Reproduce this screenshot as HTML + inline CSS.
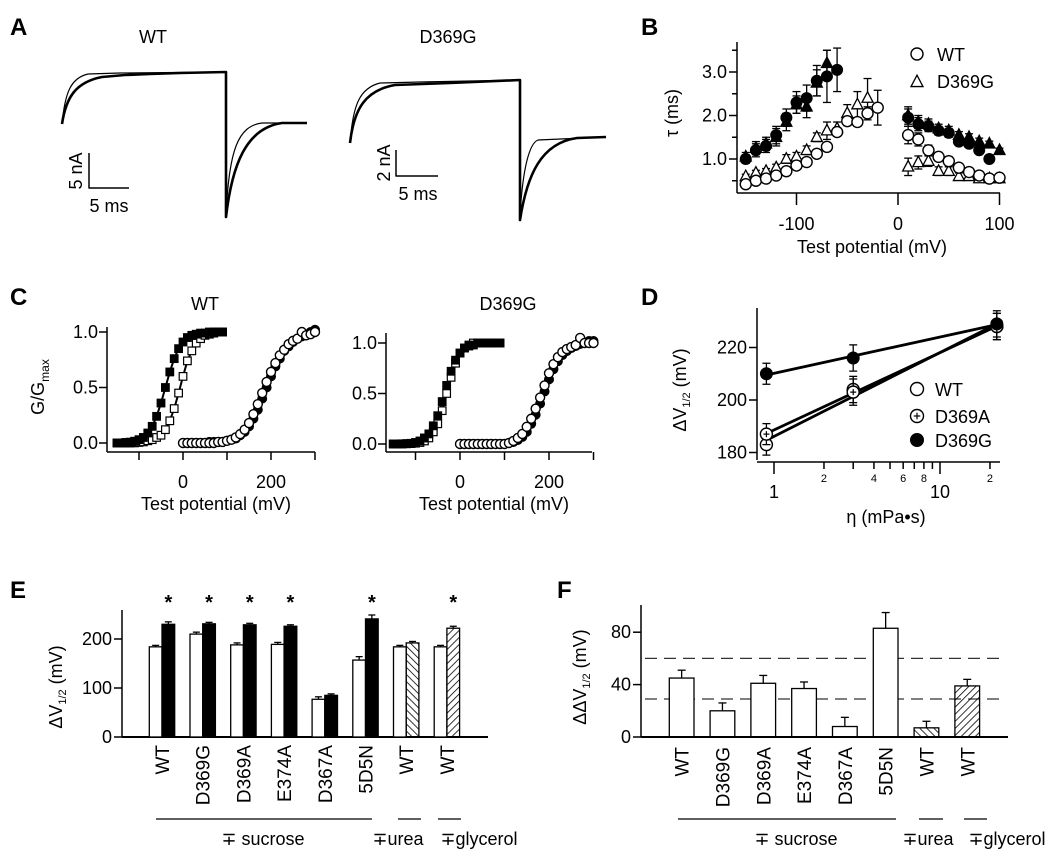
<!DOCTYPE html>
<html><head><meta charset="utf-8"><style>
html,body{margin:0;padding:0;background:#fff;}
svg{display:block;font-family:"Liberation Sans",Arial,sans-serif;}
</style></head><body>
<svg id="fig" width="1050" height="859" viewBox="0 0 1050 859" xmlns="http://www.w3.org/2000/svg">
<defs>
<pattern id="hatchBack" patternUnits="userSpaceOnUse" width="5" height="5" patternTransform="rotate(-45)"><line x1="0" y1="0" x2="0" y2="5" stroke="#000" stroke-width="1.6"/></pattern>
<pattern id="hatchFwd" patternUnits="userSpaceOnUse" width="5" height="5" patternTransform="rotate(45)"><line x1="0" y1="0" x2="0" y2="5" stroke="#000" stroke-width="1.6"/></pattern>
</defs>
<g fill="none" stroke="#000" stroke-linejoin="round">
<path stroke-width="1.2" d="M62,124 C65,92 71,78 88,74 L120,73 L226,72 L226,215 C229,150 238,126 262,123 L307,123"/>
<path stroke-width="2.6" d="M62,124 C66,97 76,82 102,77 L125,75 L150,74 L180,73 L226,72 L226,217 C232,165 246,128 282,123 L307,123"/>
<path stroke-width="1.2" d="M350,143 C353,104 360,88 380,83 L420,82 L520,80 L520,215 C523,165 530,143 538,140 L606,137"/>
<path stroke-width="2.6" d="M350,143 C354,108 366,90 395,85 L450,83 L520,80 L520,220 C527,175 541,143 577,138 L606,137"/>
<path stroke-width="1.5" d="M89,153 L89,188 L129,188"/>
<path stroke-width="1.5" d="M396,150 L396,176 L438,176"/>
</g>
<g id="main"></g>
</svg>
<script>
// ---------- data ----------
// Panel B (tau vs voltage)
const bLeftV = [-150,-140,-130,-120,-110,-100,-90,-80,-70,-60,-50,-40,-30,-20];
const bWtLeft = [0.42,0.5,0.55,0.62,0.72,0.85,0.93,1.12,1.28,1.62,1.87,1.85,2.05,2.18];
const bWtLeftErr = [0.05,0.05,0.05,0.05,0.06,0.06,0.08,0.08,0.1,0.1,0.1,0.1,0.15,0.4];
const bD369gLeft = [0.6,0.68,0.72,0.8,1.0,1.05,1.2,1.5,1.65,1.7,2.05,2.25,2.4];
const bD369gLeftErr = [0.05,0.06,0.06,0.08,0.1,0.1,0.1,0.1,0.2,0.15,0.2,0.3,0.45];
const bFillCirLeft = [1.0,1.2,1.3,1.55,1.95,2.3,2.4,2.8,2.9,3.05];
const bFillCirLeftErr = [0.1,0.15,0.15,0.2,0.2,0.25,0.3,0.35,0.6,0.5];
const bFillTriLeft = [1.05,1.25,1.35,1.5,1.85,2.25,2.2,2.75,3.2];
const bFillTriLeftErr = [0.1,0.15,0.15,0.2,0.2,0.2,0.25,0.3,0.3];
const bRightV = [10,20,30,40,50,60,70,80,90,100];
const bWtRight = [1.55,1.45,1.2,1.05,0.95,0.8,0.7,0.62,0.55,0.57];
const bD369gRight = [0.82,0.92,0.95,0.72,0.72,0.6,0.6,0.55,0.55,0.55];
const bFillCirRight = [1.95,1.8,1.75,1.65,1.6,1.4,1.35,1.2,1.0];
const bFillTriRight = [2.0,1.85,1.8,1.7,1.65,1.55,1.5,1.4,1.35,1.2];
const bRightErr = [0.2,0.15,0.12,0.1,0.1,0.08,0.08,0.08,0.06,0.05];
const bYTicks = [1.0,2.0,3.0];
const bYTickLabels = ["1.0","2.0","3.0"];
const bXTicks = [-100,0,100];

// Panel C (G/Gmax)
const cSqV = [-150,-140,-130,-120,-110,-100,-90,-80,-70,-60,-50,-40,-30,-20,-10,0,10,20,30,40,50,60,70,80,90];
const cWtFilledSq = [0,0,0.005,0.008,0.016,0.03,0.05,0.09,0.15,0.24,0.36,0.5,0.64,0.76,0.85,0.91,0.95,0.97,0.98,0.99,0.99,1.0,1.0,1.0,1.0];
const cWtOpenSq = [0,0,0,0,0.001,0.005,0.01,0.02,0.03,0.05,0.07,0.12,0.2,0.31,0.45,0.6,0.74,0.83,0.9,0.94,0.97,0.98,0.99,1.0,1.0];
const cCirV = [0,10,20,30,40,50,60,70,80,90,100,110,120,130,140,150,160,170,180,190,200,210,220,230,240,250,260,270,280,290,300];
const cWtOpenCir = [0,0,0,0,0,0,0,0,0.01,0.01,0.02,0.03,0.05,0.08,0.12,0.18,0.26,0.35,0.45,0.55,0.64,0.72,0.79,0.84,0.89,0.92,0.94,1.0,0.97,0.98,1.0];
const cWtFilledCir = [0,0,0,0,0,0,0.01,0.01,0.01,0.01,0.02,0.03,0.04,0.07,0.1,0.15,0.22,0.3,0.4,0.5,0.6,0.69,0.76,0.83,0.87,0.91,0.94,0.96,0.97,1.0,1.02];
const cGFilledSq = [0,0,0.002,0.004,0.007,0.015,0.03,0.06,0.1,0.18,0.28,0.42,0.58,0.72,0.83,0.9,0.95,0.97,0.98,1.0,1.0,1.0,1.0,1.0,1.0];
const cGOpenSq = [0,0,0,0.002,0.004,0.008,0.015,0.03,0.06,0.12,0.2,0.33,0.5,0.66,0.8,0.9,0.95,0.98,1.0,1.0,1.0,1.0,1.0,1.0,1.0];
const cGOpenCir = [0,0,0,0,0,0,0,0,0,0,0,0.01,0.03,0.06,0.1,0.17,0.25,0.35,0.46,0.58,0.7,0.79,0.86,0.91,0.94,0.96,0.98,1.05,1.0,1.0,1.0];
const cGFilledCir = [0,0,0,0,0,0,0,0,0,0,0,0.01,0.02,0.04,0.07,0.12,0.2,0.29,0.4,0.52,0.64,0.74,0.82,0.88,0.92,0.95,0.97,0.99,1.0,1.02,1.02];
const cYTicks = [0,0.5,1.0];
const cYTickLabels = ["0.0","0.5","1.0"];
const cXTicks = [-100,0,100,200,300];
const cXTickLabels = ["","0","","200",""];

// Panel D (dV1/2 vs viscosity)
const dEta = [0.9,3,22];
const dWt = [183,204,228];
const dD369a = [187,203,228];
const dD369g = [210,216,229];
const dErr = [4,5,5];
const dYTicks = [180,200,220];
const dMinorTicks = [1,2,3,4,5,6,7,8,9,10,20];
const dMinorLabels = ["","2","","4","","6","","8","","","2"];

// Panel E
const eCats = ["WT","D369G","D369A","E374A","D367A","5D5N","WT","WT"];
const eMinus = [184,210,188,189,77,157,184,184];
const eMinusErr = [3,4,4,4,5,7,3,3];
const ePlus = [230,231,229,226,85,241,192,222];
const ePlusErr = [5,3,3,3,3,8,3,4];
const eStars = [true,true,true,true,false,true,false,true];
const eYTicks = [0,100,200];
// Panel F
const fCats = ["WT","D369G","D369A","E374A","D367A","5D5N","WT","WT"];
const fVals = [45,20,41,37,8,83,7,39];
const fErr = [6,6,6,5,7,12,5,5];
const fDashed = [60,29];
const fYTicks = [0,40,80];

// ---------- helpers ----------
const NS = "http://www.w3.org/2000/svg";
const root = document.getElementById('main');
function el(tag, attrs, name, parent) {
  const e = document.createElementNS(NS, tag);
  for (const k in attrs) e.setAttribute(k, attrs[k]);
  
  
  (parent || root).appendChild(e);
  return e;
}
function line(x1,y1,x2,y2,name,w,extra) {
  const a = {x1:x1,y1:y1,x2:x2,y2:y2,stroke:'#000','stroke-width':w||1.5};
  if (extra) for (const k in extra) a[k]=extra[k];
  return el('line', a, name);
}
function text(x,y,s,name,opts) {
  opts = opts || {};
  const a = {x:x,y:y,'font-size':opts.size||18,'text-anchor':opts.anchor||'middle',fill:'#000'};
  if (opts.weight) a['font-weight']=opts.weight;
  if (opts.transform) a.transform=opts.transform;
  const t = el('text', a, name);
  t.textContent = s;
  return t;
}
function marker(type, x, y, r, name) {
  if (type==='oc') return el('circle',{cx:x,cy:y,r:r,fill:'#fff',stroke:'#000','stroke-width':1.4},name);
  if (type==='fc') return el('circle',{cx:x,cy:y,r:r,fill:'#000',stroke:'#000','stroke-width':1},name);
  if (type==='ot'||type==='ft') {
    const h=r*1.9, p=`${x},${y-h*0.6} ${x-r},${y+h*0.4} ${x+r},${y+h*0.4}`;
    return el('polygon',{points:p,fill:type==='ot'?'#fff':'#000',stroke:'#000','stroke-width':1.3},name);
  }
  if (type==='os'||type==='fs') return el('rect',{x:x-r,y:y-r,width:2*r,height:2*r,fill:type==='os'?'#fff':'#000',stroke:'#000','stroke-width':1.2},name);
  if (type==='op') { const g=el('circle',{cx:x,cy:y,r:r,fill:'#fff',stroke:'#000','stroke-width':1.4},name);
    line(x-r*0.5,y,x+r*0.5,y,name+'-plus-h',1.2); line(x,y-r*0.5,x,y+r*0.5,name+'-plus-v',1.2); return g; }
}
function errbar(x,y1,y2,name,cap) {
  cap = cap||4;
  line(x,y1,x,y2,name,1.3);
  line(x-cap,y2,x+cap,y2,name+'-cap',1.3);
}

// ---------- Panel labels & A text ----------
text(10,35,"A","panel-label-a",{size:24,weight:'bold',anchor:'start'});
text(641,35,"B","panel-label-b",{size:24,weight:'bold',anchor:'start'});
text(10,305,"C","panel-label-c",{size:24,weight:'bold',anchor:'start'});
text(641,305,"D","panel-label-d",{size:24,weight:'bold',anchor:'start'});
text(10,598,"E","panel-label-e",{size:24,weight:'bold',anchor:'start'});
text(557,598,"F","panel-label-f",{size:24,weight:'bold',anchor:'start'});
text(153,43,"WT","a-wt-title");
text(448,43,"D369G","a-d369g-title");
text(82,171,"5 nA","a-wt-current-scale",{transform:"rotate(-90 82 171)"});
text(109,212,"5 ms","a-wt-time-scale");
text(390,163,"2 nA","a-d369g-current-scale",{transform:"rotate(-90 390 163)"});
text(418,200,"5 ms","a-d369g-time-scale");

// ---------- Panel B ----------
const bx = v => 898 + v*1.015;
const by = v => 159 - (v-1)*43.5;
line(737,42,737,193,"b-y-axis",1.5);
line(737,193,1000,193,"b-x-axis",1.5);
bYTicks.forEach((t,i)=>{ line(729,by(t),737,by(t),"b-y-tick",1.5); text(727,by(t)+6,bYTickLabels[i],"b-y-tick-label",{anchor:'end'}); });
[0.5,1.5,2.5,3.5].forEach(t=>line(732,by(t),737,by(t),"b-y-minor-tick",1.5));
bXTicks.forEach(t=>{ line(bx(t),193,bx(t),205,"b-x-tick",1.5); text(bx(t),230,String(t),"b-x-tick-label"); });
text(872,253,"Test potential (mV)","b-x-axis-title");
text(678,113,"τ (ms)","b-y-axis-title",{transform:"rotate(-90 678 113)"});
function bSeries(vs, vals, errs, type, name) {
  vals.forEach((v,i)=>{ if (errs) { errbar(bx(vs[i]),by(v),by(v+errs[i]),name+'-err'); errbar(bx(vs[i]),by(v),by(v-errs[i]),name+'-err'); } });
  vals.forEach((v,i)=>marker(type,bx(vs[i]),by(v),5.5,name+'-point'));
}
bSeries(bLeftV,bFillTriLeft,bFillTriLeftErr,'ft','b-filled-tri-left');
bSeries(bLeftV,bFillCirLeft,bFillCirLeftErr,'fc','b-filled-circle-left');
bSeries(bRightV,bFillTriRight,bRightErr,'ft','b-filled-tri-right');
bSeries(bRightV,bFillCirRight,bRightErr,'fc','b-filled-circle-right');
bSeries(bLeftV,bD369gLeft,bD369gLeftErr,'ot','b-d369g-left');
bSeries(bRightV,bD369gRight,bRightErr,'ot','b-d369g-right');
bSeries(bLeftV,bWtLeft,bWtLeftErr,'oc','b-wt-left');
bSeries(bRightV,bWtRight,bRightErr,'oc','b-wt-right');
marker('oc',917,54,6,'b-legend-wt-symbol'); text(937,61,"WT","b-legend-wt",{anchor:'start'});
marker('ot',917,82,6,'b-legend-d369g-symbol'); text(937,88,"D369G","b-legend-d369g",{anchor:'start'});

// ---------- Panel C ----------
function cPanel(pfx, x0, xEnd, y0pix, yScale, yTop, xZero, xScale, title, titleX, series) {
  const cx = v => xZero + v*xScale;
  const cy = v => y0pix - v*yScale;
  line(x0,yTop,x0,452,pfx+"-y-axis",1.5);
  line(x0,452,xEnd,452,pfx+"-x-axis",1.5);
  cYTicks.forEach((t,i)=>{ line(x0-8,cy(t),x0,cy(t),pfx+"-y-tick",1.5); text(x0-9,cy(t)+6,cYTickLabels[i],pfx+"-y-tick-label",{anchor:'end'}); });
  cXTicks.forEach((t,i)=>{ line(cx(t),452,cx(t),460,pfx+"-x-tick",1.5); if (cXTickLabels[i]) text(cx(t),488,cXTickLabels[i],pfx+"-x-tick-label"); });
  text(titleX,310,title,pfx+"-title");
  text((x0+xEnd)/2+5,510,"Test potential (mV)",pfx+"-x-axis-title");
  series.forEach(s=>{
    const pts = s.vals.map((v,i)=>cx(s.vs[i])+','+cy(v)).join(' ');
    el('polyline',{points:pts,fill:'none',stroke:'#000','stroke-width':2},pfx+'-'+s.name+'-fit');
  });
  series.forEach(s=>{ s.vals.forEach((v,i)=>marker(s.type,cx(s.vs[i]),cy(v),s.type.endsWith('s')?3.8:4.5,pfx+'-'+s.name+'-point')); });
}
cPanel('c-wt',107,315,443,111,327,183,0.44,"WT",205,[
  {vs:cSqV,vals:cWtOpenSq,type:'os',name:'open-square'},
  {vs:cSqV,vals:cWtFilledSq,type:'fs',name:'filled-square'},
  {vs:cCirV,vals:cWtFilledCir,type:'fc',name:'filled-circle'},
  {vs:cCirV,vals:cWtOpenCir,type:'oc',name:'open-circle'}]);
cPanel('c-d369g',386,592,444,101,333,460,0.445,"D369G",508,[
  {vs:cSqV,vals:cGOpenSq,type:'os',name:'open-square'},
  {vs:cSqV,vals:cGFilledSq,type:'fs',name:'filled-square'},
  {vs:cCirV,vals:cGFilledCir,type:'fc',name:'filled-circle'},
  {vs:cCirV,vals:cGOpenCir,type:'oc',name:'open-circle'}]);
(function(){ const t=text(44,387,"G/G","c-y-axis-title",{transform:"rotate(-90 44 387)"});
  const s=document.createElementNS(NS,'tspan'); s.setAttribute('font-size','12'); s.setAttribute('dy','5'); s.textContent='max';
  
  
  t.appendChild(s); })();

// ---------- Panel D ----------
const dx = e => 774 + Math.log10(e)*166;
const dy = v => 400 - (v-200)*2.625;
line(757,308,757,460,"d-y-axis",1.5);
line(757,462,1000,462,"d-x-axis",1.5);
dYTicks.forEach(t=>{ line(749,dy(t),757,dy(t),"d-y-tick",1.5); text(747,dy(t)+6,String(t),"d-y-tick-label",{anchor:'end'}); });
dMinorTicks.forEach((t,i)=>{ const major=(t===1||t===10); line(dx(t),462,dx(t),major?474:469,"d-x-tick",1.5);
  if (dMinorLabels[i]) text(dx(t),482,dMinorLabels[i],"d-x-minor-label",{size:11}); });
text(dx(1),498,"1","d-x-tick-label"); text(dx(10),498,"10","d-x-tick-label");
text(886,523,"η (mPa•s)","d-x-axis-title");
(function(){ const t=text(686,390,"ΔV","d-y-axis-title",{transform:"rotate(-90 686 390)"});
  const s=document.createElementNS(NS,'tspan'); s.setAttribute('font-size','11'); s.setAttribute('dy','4'); s.textContent='1/2';
  
  
  t.appendChild(s);
  const s2=document.createElementNS(NS,'tspan'); s2.setAttribute('dy','-4'); s2.textContent=' (mV)';
  
  
  t.appendChild(s2); })();
function dFit(vals, name) {
  const xs = dEta.map(e=>Math.log10(e)); const n=xs.length;
  const mx=xs.reduce((a,b)=>a+b)/n, my=vals.reduce((a,b)=>a+b)/n;
  let sxy=0,sxx=0; xs.forEach((x,i)=>{sxy+=(x-mx)*(vals[i]-my); sxx+=(x-mx)*(x-mx);});
  const m=sxy/sxx, b=my-m*mx;
  const e0=dEta[0], e1=dEta[n-1];
  line(dx(e0),dy(b+m*Math.log10(e0)),dx(e1),dy(b+m*Math.log10(e1)),name,2.8);
}
dFit(dWt,'d-wt-fit'); dFit(dD369a,'d-d369a-fit'); dFit(dD369g,'d-d369g-fit');
[[dWt,'oc','d-wt'],[dD369a,'op','d-d369a'],[dD369g,'fc','d-d369g']].forEach(([vals,type,name])=>{
  vals.forEach((v,i)=>{ errbar(dx(dEta[i]),dy(v),dy(v+dErr[i]),name+'-err'); errbar(dx(dEta[i]),dy(v),dy(v-dErr[i]),name+'-err'); });
  vals.forEach((v,i)=>marker(type,dx(dEta[i]),dy(v),6,name+'-point'));
});
marker('oc',917,389,6.5,'d-legend-wt-symbol'); text(935,396,"WT","d-legend-wt",{anchor:'start'});
marker('op',917,416,6.5,'d-legend-d369a-symbol'); text(935,423,"D369A","d-legend-d369a",{anchor:'start'});
marker('fc',917,440,6.5,'d-legend-d369g-symbol'); text(935,447,"D369G","d-legend-d369g",{anchor:'start'});

// ---------- Panel E ----------
const ey = v => 737 - v*0.49;
const eLeft = i => 149.3 + i*40.7;
const eBW = 12.7;
line(122,610,122,737,"e-y-axis",1.5);
line(122,737,488,737,"e-x-axis",2);
eYTicks.forEach(t=>{ line(114,ey(t),122,ey(t),"e-y-tick",1.5); text(112,ey(t)+6,String(t),"e-y-tick-label",{anchor:'end'}); });
eCats.forEach((c,i)=>{
  const xl=eLeft(i);
  errbar(xl+eBW/2,ey(eMinus[i]),ey(eMinus[i]+eMinusErr[i]),'e-minus-err',3.5);
  el('rect',{x:xl,y:ey(eMinus[i]),width:eBW,height:737-ey(eMinus[i]),fill:'#fff',stroke:'#000','stroke-width':1.3},'e-bar-minus-'+c.toLowerCase());
  const fill = i===6?'url(#hatchBack)':(i===7?'url(#hatchFwd)':'#000');
  errbar(xl+eBW*1.5,ey(ePlus[i]),ey(ePlus[i]+ePlusErr[i]),'e-plus-err',3.5);
  el('rect',{x:xl+eBW,y:ey(ePlus[i]),width:eBW,height:737-ey(ePlus[i]),fill:fill,stroke:'#000','stroke-width':1.3},'e-bar-plus-'+c.toLowerCase());
  if (eStars[i]) text(xl+eBW*1.5,609,"*","e-significance-star",{size:20,weight:'bold'});
  const lx = xl+eBW+7;
  text(lx,745,c,'e-category-label',{size:19,anchor:'end',transform:`rotate(-90 ${lx} 745)`});
});
line(156,819,372,819,"e-sucrose-bracket",1.3);
line(398,819,421,819,"e-urea-bracket",1.3);
line(438,819,461,819,"e-glycerol-bracket",1.3);
text(263,845,"∓ sucrose","e-sucrose-label");
text(398,845,"∓urea","e-urea-label");
text(479,845,"∓glycerol","e-glycerol-label");
(function(){ const t=text(62,687,"ΔV","e-y-axis-title",{transform:"rotate(-90 62 687)"});
  const s=document.createElementNS(NS,'tspan'); s.setAttribute('font-size','11'); s.setAttribute('dy','4'); s.textContent='1/2';
  
  
  t.appendChild(s);
  const s2=document.createElementNS(NS,'tspan'); s2.setAttribute('dy','-4'); s2.textContent=' (mV)';
  
  
  t.appendChild(s2); })();

// ---------- Panel F ----------
const fy = v => 737 - v*1.31;
const fLeft = i => 669.3 + i*40.8;
const fBW = 24.7;
line(641,605,641,737,"f-y-axis",1.5);
fYTicks.forEach(t=>{ line(633,fy(t),641,fy(t),"f-y-tick",1.5); text(631,fy(t)+6,String(t),"f-y-tick-label",{anchor:'end'}); });
fDashed.forEach(v=>line(645,fy(v),1005,fy(v),"f-reference-dashed-line",1.3,{'stroke-dasharray':'12,7',stroke:'#333'}));
fCats.forEach((c,i)=>{
  const xl=fLeft(i);
  errbar(xl+fBW/2,fy(fVals[i]),fy(fVals[i]+fErr[i]),'f-err',4);
  const fill = i===6?'url(#hatchBack)':(i===7?'url(#hatchFwd)':'#fff');
  el('rect',{x:xl,y:fy(fVals[i]),width:fBW,height:737-fy(fVals[i]),fill:fill,stroke:'#000','stroke-width':1.3},'f-bar-'+c.toLowerCase());
  const lx = xl+fBW/2+7;
  text(lx,747,c,'f-category-label',{size:19,anchor:'end',transform:`rotate(-90 ${lx} 747)`});
});
line(641,737,1008,737,"f-x-axis",2);
line(678,819,896,819,"f-sucrose-bracket",1.3);
line(919,819,943,819,"f-urea-bracket",1.3);
line(964,819,987,819,"f-glycerol-bracket",1.3);
text(796,845,"∓ sucrose","f-sucrose-label");
text(928,845,"∓urea","f-urea-label");
text(1007,845,"∓glycerol","f-glycerol-label");
(function(){ const t=text(586,677,"ΔΔV","f-y-axis-title",{transform:"rotate(-90 586 677)"});
  const s=document.createElementNS(NS,'tspan'); s.setAttribute('font-size','11'); s.setAttribute('dy','4'); s.textContent='1/2';
  
  
  t.appendChild(s);
  const s2=document.createElementNS(NS,'tspan'); s2.setAttribute('dy','-4'); s2.textContent=' (mV)';
  
  
  t.appendChild(s2); })();
</script>
</body></html>
